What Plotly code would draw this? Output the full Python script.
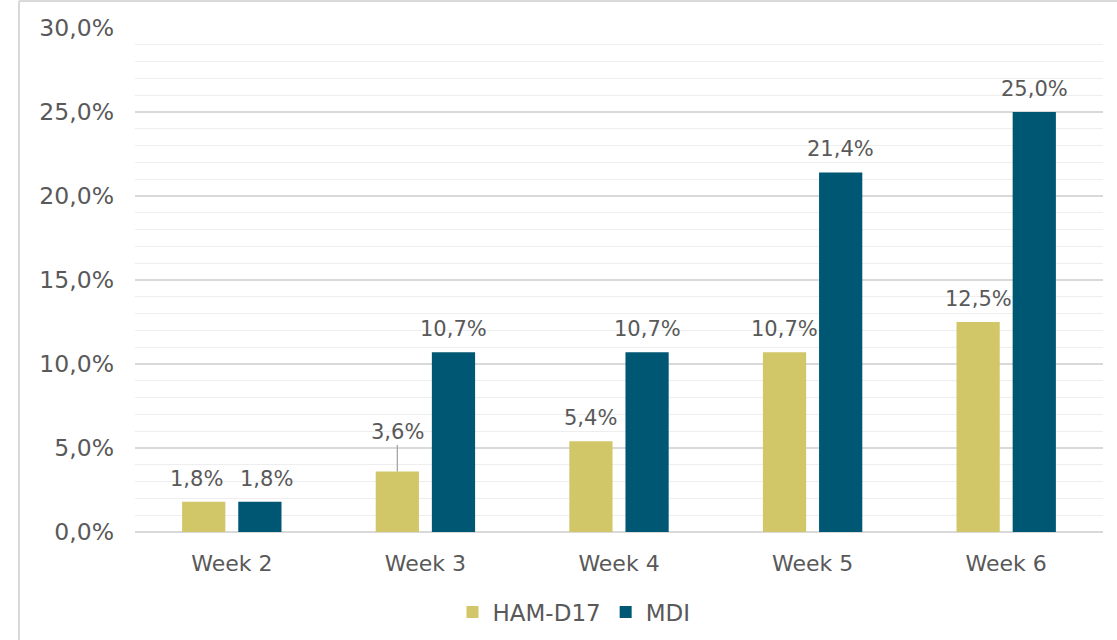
import plotly.graph_objects as go

categories = ["Week 2", "Week 3", "Week 4", "Week 5", "Week 6"]
ham_d17 = [1.8, 3.6, 5.4, 10.7, 12.5]
mdi = [1.8, 10.7, 10.7, 21.4, 25.0]
y_ticks = [0, 5, 10, 15, 20, 25, 30]

HAM_COLOR = "#D2C768"
MDI_COLOR = "#005773"
TEXT_COLOR = "#595959"
FONT = "DejaVu Sans"
FS_LABEL = 21
FS_XTICK = 22
FS_YTICK = 23.5
FS_LEGEND = 23

W, H = 1117, 640
ML, MR, MT, MB = 135, 14, 28, 108
PW = W - ML - MR
PH = H - MT - MB

fig = go.Figure()
fig.add_trace(go.Bar(name="HAM-D17", x=categories, y=ham_d17, marker_color=HAM_COLOR,
                     marker_line_width=0))
fig.add_trace(go.Bar(name="MDI", x=categories, y=mdi, marker_color=MDI_COLOR,
                     marker_line_width=0))

bargap = 0.42
cat_w = PW / len(categories)
slot = cat_w * (1 - bargap) / 2
shift = slot / 2
# extra horizontal nudge for labels that would otherwise collide (Week 2)
nudge = {"Week 2": 7}


def fmt(v):
    return f"{v:.1f}".replace(".", ",") + "%"


annotations = []
for i, c in enumerate(categories):
    for vals, sgn in ((ham_d17, -1), (mdi, 1)):
        v = vals[i]
        xs = sgn * (shift + nudge.get(c, 0))
        if c == "Week 3" and sgn == -1:
            annotations.append(dict(x=c, y=v, xref="x", yref="y", text=fmt(v),
                                    showarrow=True, arrowhead=0, arrowwidth=1.3,
                                    arrowcolor="#a6a6a6", ax=0, ay=-40,
                                    xshift=xs,
                                    font=dict(family=FONT, size=FS_LABEL, color=TEXT_COLOR)))
        else:
            annotations.append(dict(x=c, y=v, xref="x", yref="y", text=fmt(v),
                                    showarrow=False, yshift=23, xshift=xs,
                                    font=dict(family=FONT, size=FS_LABEL, color=TEXT_COLOR)))

fig.update_layout(
    width=W, height=H,
    margin=dict(l=ML, r=MR, t=MT, b=MB, autoexpand=False),
    paper_bgcolor="white", plot_bgcolor="white",
    barmode="group", bargap=bargap, bargroupgap=0.23,
    font=dict(family=FONT, size=FS_XTICK, color=TEXT_COLOR),
    annotations=annotations,
    legend=dict(orientation="h", xref="container", yref="container",
                x=574 / W, xanchor="center",
                y=(H - 612) / H, yanchor="middle",
                font=dict(family=FONT, size=FS_LEGEND, color=TEXT_COLOR),
                itemwidth=30, traceorder="normal"),
    xaxis=dict(showline=False, ticks="", tickfont=dict(size=FS_XTICK, color=TEXT_COLOR),
               ticklabelstandoff=16, showgrid=False, automargin=False),
    yaxis=dict(range=[0, 30], tickvals=y_ticks, ticktext=[fmt(t) for t in y_ticks],
               showgrid=True, gridcolor="#d9d9d9", gridwidth=1.5,
               zeroline=True, zerolinecolor="#d9d9d9", zerolinewidth=1.5,
               showline=False, ticks="", ticklabelstandoff=20, automargin=False,
               tickfont=dict(size=FS_YTICK, color=TEXT_COLOR),
               minor=dict(dtick=1, showgrid=True, gridcolor="#eeeeee", gridwidth=1)),
    shapes=[
        dict(type="line", xref="paper", yref="paper",
             x0=(19 - ML) / PW, x1=(19 - ML) / PW,
             y0=(PH - (H - MT)) / PH, y1=(PH - (1 - MT)) / PH,
             line=dict(color="#d9d9d9", width=2)),
        dict(type="line", xref="paper", yref="paper",
             x0=(19 - ML) / PW, x1=(W - ML) / PW,
             y0=(PH - (1 - MT)) / PH, y1=(PH - (1 - MT)) / PH,
             line=dict(color="#d9d9d9", width=2)),
    ],
)

fig.write_html("out.html", config={"displayModeBar": False},
               post_script="document.body.style.margin='0';")
